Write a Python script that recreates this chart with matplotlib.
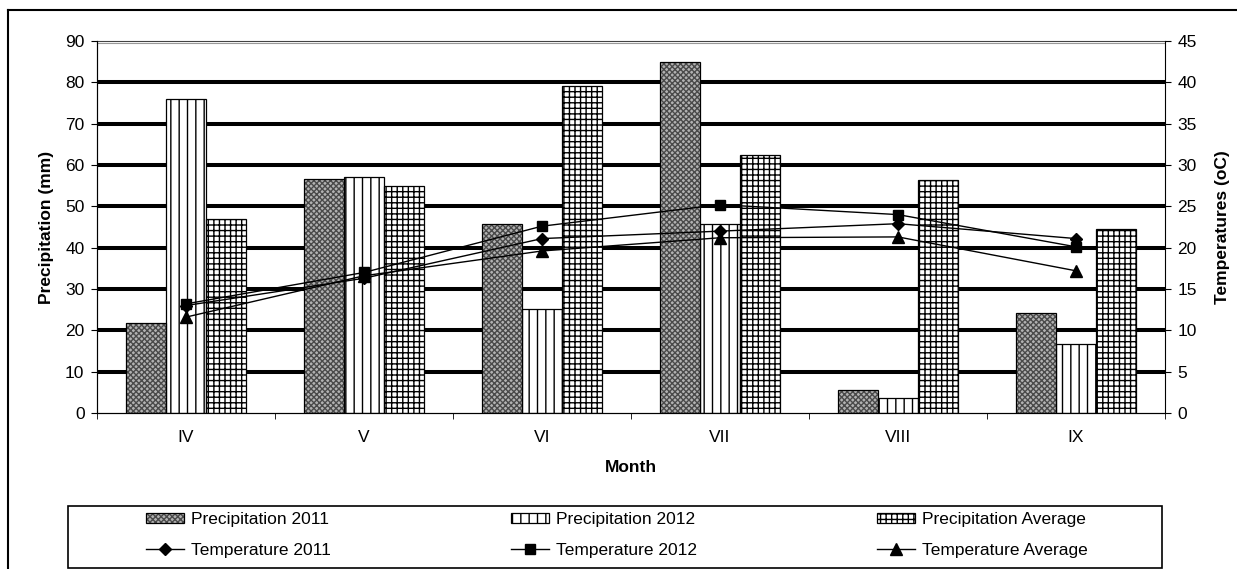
import numpy as np
import matplotlib
matplotlib.use("Agg")
import matplotlib.pyplot as plt
from matplotlib.lines import Line2D
from matplotlib.patches import Rectangle

plt.rcParams["font.family"] = ["Liberation Sans", "DejaVu Sans"]
plt.rcParams["hatch.linewidth"] = 1.0

months = ["IV", "V", "VI", "VII", "VIII", "IX"]

# precipitation (mm), left axis
prec_2011 = [21.8, 56.7, 45.8, 85.0, 5.6, 24.1]
prec_2012 = [76.0, 57.0, 25.2, 45.8, 3.6, 16.6]
prec_avg = [46.9, 55.0, 79.0, 62.5, 56.3, 44.4]

# temperature (oC), right axis
temp_2011 = [13.0, 16.3, 21.1, 22.0, 22.9, 21.1]
temp_2012 = [13.2, 17.0, 22.6, 25.2, 24.0, 20.1]
temp_avg = [11.6, 16.6, 19.6, 21.2, 21.3, 17.2]

FS = 12.5
W, H = 1237, 569
fig = plt.figure(figsize=(W / 100, H / 100), dpi=100, facecolor="white")

# outer frame (top and left edges visible)
fig.add_artist(Line2D([8 / W, 1.0], [1 - 10 / H, 1 - 10 / H], color="black", lw=1.5,
                      transform=fig.transFigure))
fig.add_artist(Line2D([8 / W, 8 / W], [0.0, 1 - 10 / H], color="black", lw=1.5,
                      transform=fig.transFigure))

ax = fig.add_axes([97 / W, 1 - 413 / H, (1165 - 97) / W, (413 - 41) / H])
x = np.arange(len(months))
bw = 0.225

for y in range(10, 90, 10):
    ax.axhline(y, color="black", lw=2.9, zorder=1)
ax.axhline(89.5, color="#999999", lw=0.8, zorder=1)

# fine grey checker for 2011: hatch layer then black outline
b1f = ax.bar(x - bw, prec_2011, bw, color="#b2b2b2", edgecolor="#4a4a4a", hatch="xxxxxx",
             lw=0, zorder=2)
b1 = ax.bar(x - bw, prec_2011, bw, fill=False, edgecolor="black",
            lw=0.9, zorder=2.1)
b2 = ax.bar(x, prec_2012, bw, color="white", edgecolor="black", hatch="||",
            lw=0.9, zorder=2)
b3 = ax.bar(x + bw, prec_avg, bw, color="white", edgecolor="black", hatch="+++",
            lw=0.9, zorder=2)

ax.set_xlim(-0.5, len(months) - 0.5)
ax.set_ylim(0, 90)
ax.set_yticks(np.arange(0, 91, 10))
ax.set_xticks(x)
ax.set_xticklabels(months)
ax.set_xticks(np.arange(-0.5, len(months), 1.0), minor=True)
ax.tick_params(axis="x", which="major", length=0, labelsize=FS, pad=12)
ax.tick_params(axis="x", which="minor", length=4, direction="out")
ax.tick_params(axis="y", length=4, direction="out", labelsize=FS, pad=5)
ax.spines["top"].set_color("#444444")
ax.spines["top"].set_linewidth(0.8)
ax.spines["left"].set_color("#333333")
ax.spines["right"].set_visible(False)
ax.set_xlabel("Month", fontsize=FS, fontweight="bold", labelpad=11)
ax.set_ylabel("Precipitation (mm)", fontsize=FS, fontweight="bold", labelpad=8)

ax2 = ax.twinx()
l1, = ax2.plot(x, temp_2011, color="black", lw=1.0, marker="D", ms=6)
l2, = ax2.plot(x, temp_2012, color="black", lw=1.0, marker="s", ms=7)
l3, = ax2.plot(x, temp_avg, color="black", lw=1.0, marker="^", ms=8)
ax2.set_ylim(0, 45)
ax2.set_yticks(np.arange(0, 46, 5))
ax2.tick_params(axis="y", length=4, direction="out", labelsize=FS, pad=5)
ax2.spines["top"].set_visible(False)
ax2.spines["right"].set_color("black")
ax2.set_ylabel("Temperatures (oC)", fontsize=FS, fontweight="bold", labelpad=13)

# legend box
fig.add_artist(Rectangle((68 / W, 1 - 568 / H), (1162 - 68) / W, (568 - 506) / H,
                         transform=fig.transFigure, fill=False, edgecolor="black", lw=1.2))

handles = [(b1f, b1), l1, b2, l2, b3, l3]
labels = ["Precipitation 2011", "Temperature 2011",
          "Precipitation 2012", "Temperature 2012",
          "Precipitation Average", "Temperature Average"]
leg = fig.legend(handles, labels, ncol=3, loc="center",
                 bbox_to_anchor=(617 / W, 1 - 535 / H),
                 fontsize=FS, frameon=False, borderpad=0, labelspacing=0.88,
                 handlelength=2.2, handletextpad=0.4, columnspacing=10.35,
                 borderaxespad=0, handleheight=0.5)

fig.savefig("out.png", dpi=100, facecolor="white")
